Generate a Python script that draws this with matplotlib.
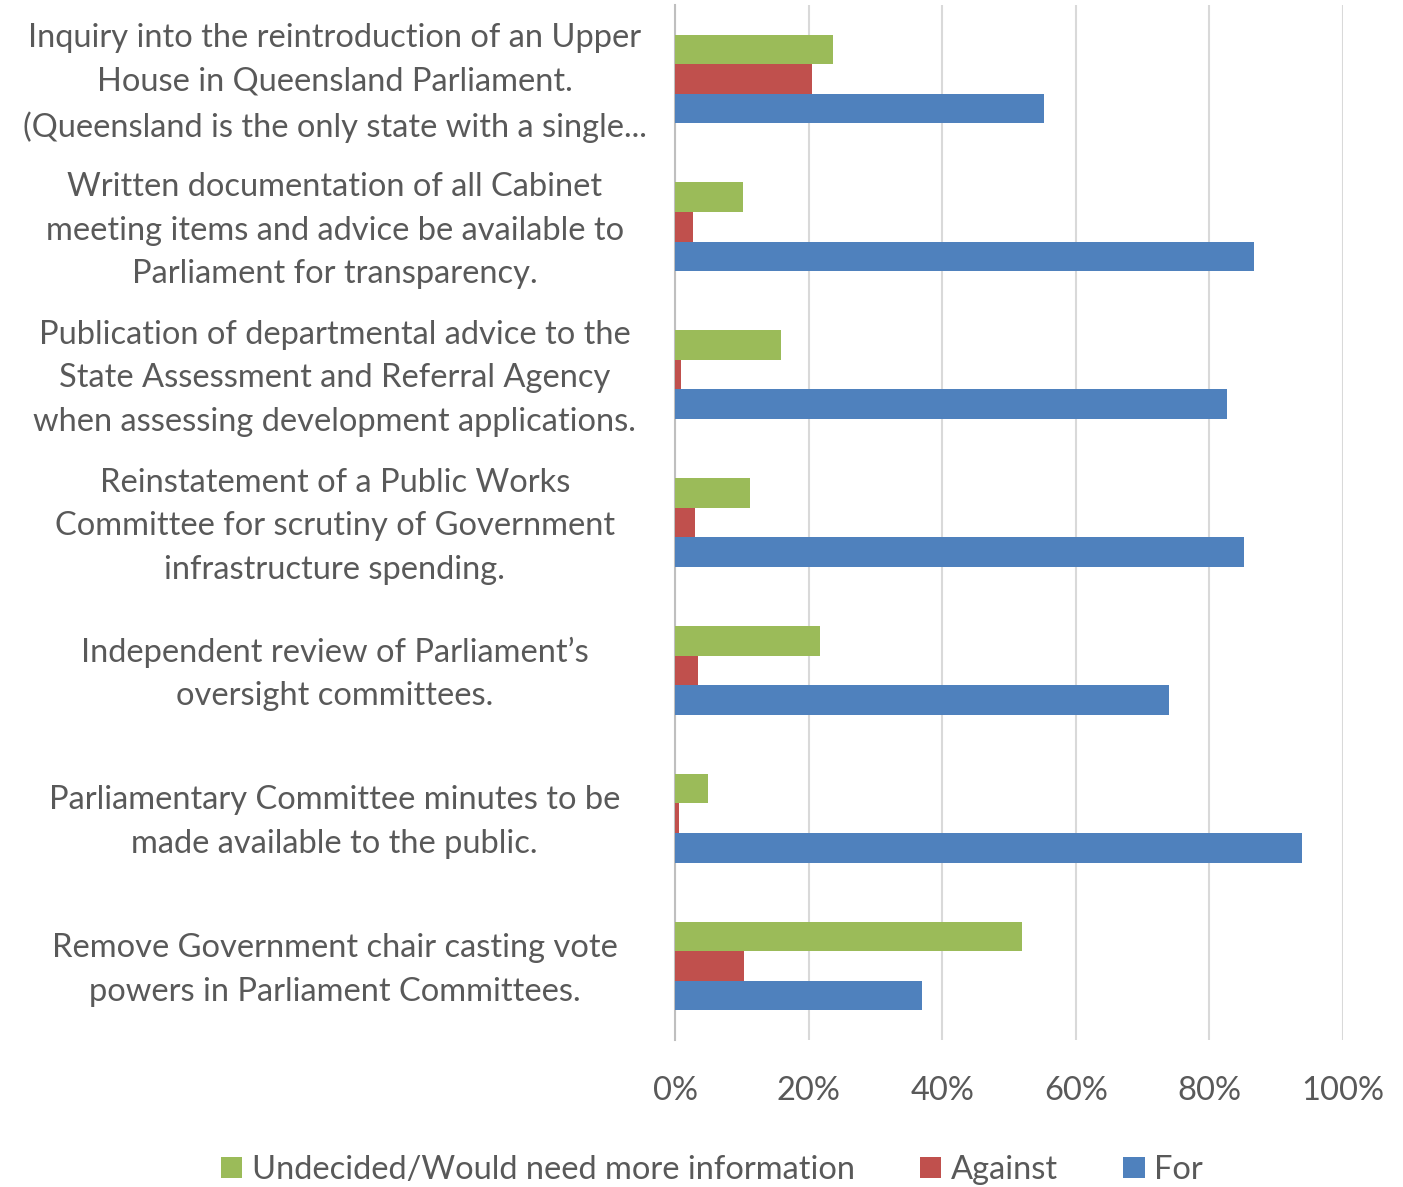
import matplotlib.pyplot as plt
import matplotlib.transforms as mtransforms
import numpy as np

plt.rcParams['font.family'] = ['Lato', 'DejaVu Sans']

# ---------- Data ----------
questions = [
    "Inquiry into the reintroduction of an Upper\nHouse in Queensland Parliament.\n(Queensland is the only state with a single...",
    "Written documentation of all Cabinet\nmeeting items and advice be available to\nParliament for transparency.",
    "Publication of departmental advice to the\nState Assessment and Referral Agency\nwhen assessing development applications.",
    "Reinstatement of a Public Works\nCommittee for scrutiny of Government\ninfrastructure spending.",
    "Independent review of Parliament\u2019s\noversight committees.",
    "Parliamentary Committee minutes to be\nmade available to the public.",
    "Remove Government chair casting vote\npowers in Parliament Committees.",
]
undecided = [23.7, 10.2, 15.9, 11.2, 21.7, 4.9, 51.9]
against = [20.5, 2.7, 0.9, 3.0, 3.4, 0.6, 10.3]
in_favour = [55.2, 86.7, 82.6, 85.2, 74.0, 93.9, 37.0]

series_names = ["Undecided/Would need more information", "Against", "For"]
colours = ["#9BBB59", "#C0504D", "#4F81BD"]
text_col = "#595959"

# ---------- Plot ----------
fig = plt.figure(figsize=(14.03, 11.87), dpi=100)
ax = fig.add_axes([675/1403, 1-1040/1187, (1343-675)/1403, (1040-5)/1187])

y = np.arange(len(questions))
h = 0.2
all_series = [undecided, against, in_favour]
for k in range(3):
    ax.barh(y + (k-1)*h, np.array(all_series[k])/100, height=h,
            color=colours[k], label=series_names[k], zorder=3)

ax.set_ylim(len(questions)-0.5, -0.5)
ax.set_xlim(0, 1)
ax.set_xticks(np.linspace(0, 1, 6))
ax.set_xticklabels([f"{int(v)}%" for v in np.linspace(0, 100, 6)])
ax.set_yticks(y)
ax.set_yticklabels(questions, ha='center', multialignment='center', linespacing=1.56)

ax.tick_params(axis='y', length=0, pad=245, labelsize=23.5, labelcolor=text_col)
ax.tick_params(axis='x', length=0, pad=26, labelsize=23.5, labelcolor=text_col)

# nudge category labels up a little
shift = mtransforms.ScaledTranslation(0, 0.06, fig.dpi_scale_trans)
for lbl in ax.get_yticklabels():
    lbl.set_transform(lbl.get_transform() + shift)

ax.grid(axis='x', color='#D9D9D9', linewidth=1.5, zorder=0)
for s in ['top', 'right', 'bottom']:
    ax.spines[s].set_visible(False)
ax.spines['left'].set_color('#BFBFBF')
ax.spines['left'].set_linewidth(1.5)

fig.legend(loc='center', bbox_to_anchor=(712/1403, 1-1170/1187), ncol=3,
           frameon=False, fontsize=23.5, labelcolor=text_col,
           handlelength=0.65, handleheight=0.65, handletextpad=0.3, columnspacing=2.0)

fig.savefig("out.png", dpi=100)
